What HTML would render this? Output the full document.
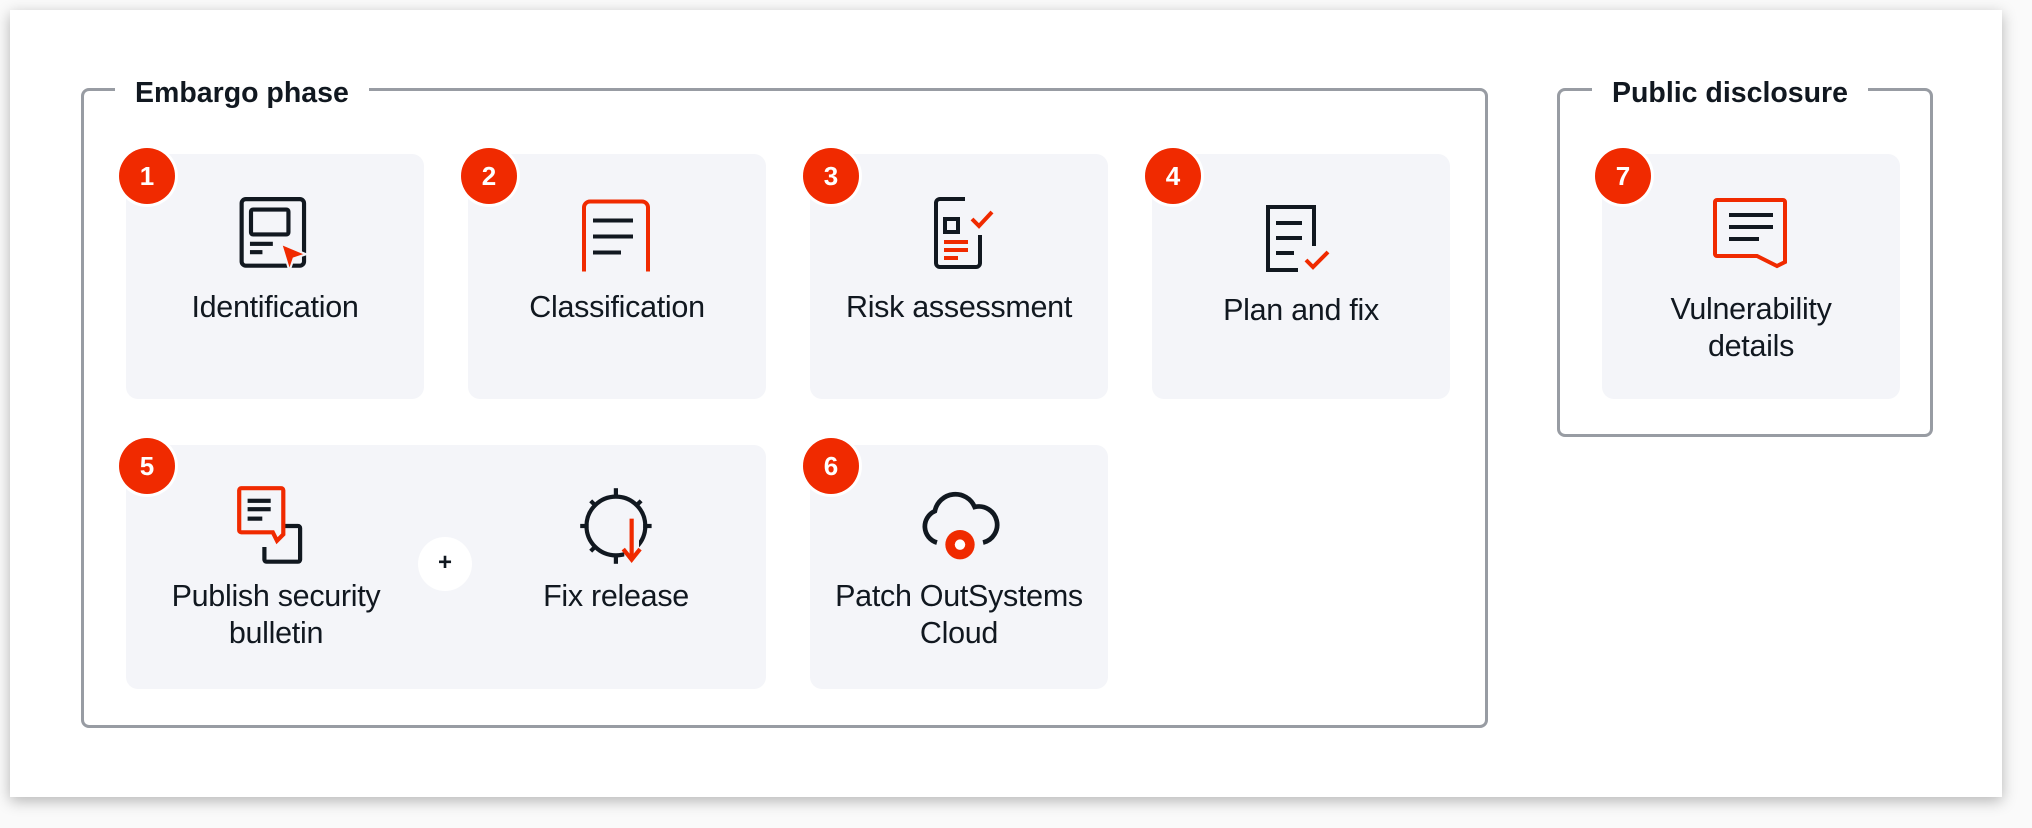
<!DOCTYPE html>
<html><head><meta charset="utf-8"><style>
html,body{margin:0;padding:0;}
body{width:2032px;height:828px;background:#fafafa;position:relative;overflow:hidden;font-family:"Liberation Sans",sans-serif;color:#111820;}
.sheet{position:absolute;left:10px;top:10px;width:1992px;height:787px;background:#fff;box-shadow:0 4px 14px rgba(0,0,0,0.28);}
.frame{position:absolute;border:3px solid #989ca3;border-radius:8px;box-sizing:border-box;}
.ftitle{position:absolute;background:#fff;font-weight:bold;font-size:28.5px;padding:0 20px;line-height:32px;letter-spacing:0px;}
.card{position:absolute;background:#f4f5f9;border-radius:12px;}
.badge{position:absolute;width:56px;height:56px;border-radius:50%;background:#f02a00;color:#fff;font-weight:bold;font-size:26px;text-align:center;line-height:56px;box-shadow:0 0 0 3px #fff;}
.lbl{position:absolute;font-size:30.5px;text-align:center;line-height:37px;letter-spacing:-0.3px;}
svg{position:absolute;}
</style></head><body>
<div class="sheet"></div>

<div class="frame" style="left:81px;top:88px;width:1407px;height:640px;"></div>
<div class="ftitle" style="left:115px;top:77px;">Embargo phase</div>

<div class="frame" style="left:1557px;top:88px;width:376px;height:349px;"></div>
<div class="ftitle" style="left:1592px;top:77px;">Public disclosure</div>

<div class="card" style="left:126px;top:154px;width:298px;height:245px;"></div>
<div class="card" style="left:468px;top:154px;width:298px;height:245px;"></div>
<div class="card" style="left:810px;top:154px;width:298px;height:245px;"></div>
<div class="card" style="left:1152px;top:154px;width:298px;height:245px;"></div>
<div class="card" style="left:126px;top:445px;width:640px;height:244px;"></div>
<div class="card" style="left:810px;top:445px;width:298px;height:244px;"></div>
<div class="card" style="left:1602px;top:154px;width:298px;height:245px;"></div>

<div class="badge" style="left:119px;top:148px;">1</div>
<div class="badge" style="left:461px;top:148px;">2</div>
<div class="badge" style="left:803px;top:148px;">3</div>
<div class="badge" style="left:1145px;top:148px;">4</div>
<div class="badge" style="left:119px;top:438px;">5</div>
<div class="badge" style="left:803px;top:438px;">6</div>
<div class="badge" style="left:1595px;top:148px;">7</div>

<svg style="left:235px;top:196px" width="84" height="78" viewBox="0 0 80 75">
<rect x="6" y="3" width="60" height="64" rx="4" fill="none" stroke="#111820" stroke-width="4"/>
<rect x="15" y="13" width="36" height="24" rx="2" fill="none" stroke="#111820" stroke-width="4"/>
<rect x="14" y="44" width="22" height="4" fill="#111820"/>
<rect x="14" y="52" width="12" height="4" fill="#111820"/>
<path d="M44 46 L68 56 L56 60 L52 72 Z" fill="#f02a00" stroke="#f4f5f9" stroke-width="2"/>
</svg>
<svg style="left:580px;top:197px" width="75" height="76" viewBox="0 0 75 75">
<path d="M4 74 V10 a6 6 0 0 1 6 -6 H62 a6 6 0 0 1 6 6 V74" fill="none" stroke="#f02a00" stroke-width="4"/>
<rect x="13" y="21" width="40" height="4" fill="#111820"/>
<rect x="13" y="37" width="40" height="4" fill="#111820"/>
<rect x="13" y="53" width="28" height="4" fill="#111820"/>
</svg>
<svg style="left:928px;top:195px" width="80" height="80" viewBox="0 0 80 80">
<path d="M37 4 H12 a4 4 0 0 0 -4 4 V68 a4 4 0 0 0 4 4 H48 a4 4 0 0 0 4 -4 V40" fill="none" stroke="#111820" stroke-width="4"/>
<rect x="17" y="24" width="13" height="13" fill="none" stroke="#111820" stroke-width="4"/>
<rect x="16" y="45" width="24" height="4" fill="#f02a00"/>
<rect x="16" y="53" width="24" height="4" fill="#f02a00"/>
<rect x="16" y="61" width="14" height="4" fill="#f02a00"/>
<path d="M44 24 L51 31 L64 17" fill="none" stroke="#f02a00" stroke-width="4"/>
</svg>
<svg style="left:1262px;top:202px" width="80" height="75" viewBox="0 0 80 75">
<path d="M52 44 V5 H6 V68 H36" fill="none" stroke="#111820" stroke-width="4"/>
<rect x="14" y="19" width="26" height="4" fill="#111820"/>
<rect x="14" y="34" width="26" height="4" fill="#111820"/>
<rect x="14" y="49" width="18" height="4" fill="#111820"/>
<path d="M44 58 L51 65 L66 50" fill="none" stroke="#f02a00" stroke-width="4"/>
</svg>
<svg style="left:235px;top:484px" width="84" height="84" viewBox="0 0 80 80">
<path d="M46 40 H60 a2 2 0 0 1 2 2 V72 a2 2 0 0 1 -2 2 H30 a2 2 0 0 1 -2 -2 V60" fill="none" stroke="#111820" stroke-width="4"/>
<path d="M6 4 H44 a2 2 0 0 1 2 2 V48 L40 54 L36 46 H6 a2 2 0 0 1 -2 -2 V6 a2 2 0 0 1 2 -2 Z" fill="#f4f5f9" stroke="#f02a00" stroke-width="4"/>
<rect x="12" y="14" width="22" height="4" fill="#111820"/>
<rect x="12" y="22" width="22" height="4" fill="#111820"/>
<rect x="12" y="31" width="14" height="4" fill="#111820"/>
</svg>
<svg style="left:576px;top:484px" width="84" height="84" viewBox="0 0 80 80">
<circle cx="38" cy="40" r="28" fill="none" stroke="#111820" stroke-width="4"/>
<g stroke="#111820" stroke-width="4"><line x1="38" y1="4" x2="38" y2="12"/><line x1="4" y1="40" x2="12" y2="40"/><line x1="64" y1="40" x2="72" y2="40"/><line x1="14" y1="16" x2="19" y2="21"/><line x1="62" y1="16" x2="57" y2="21"/><line x1="14" y1="64" x2="19" y2="59"/><line x1="38" y1="68" x2="38" y2="76"/></g>
<rect x="46" y="30" width="14" height="48" fill="#f4f5f9"/>
<line x1="53" y1="33" x2="53" y2="70" stroke="#f02a00" stroke-width="4"/>
<path d="M45 62 L53 72 L61 62" fill="none" stroke="#f02a00" stroke-width="4"/>
</svg>
<svg style="left:916px;top:490px" width="88" height="80" viewBox="0 0 84 76">
<path d="M20 50 A16 16 0 0 1 18 20 A20 20 0 0 1 56 16 A16 16 0 0 1 64 50" fill="none" stroke="#111820" stroke-width="4.5"/>
<circle cx="42" cy="52" r="14" fill="#f02a00"/>
<circle cx="42" cy="52" r="5" fill="#fff"/>
</svg>
<svg style="left:1711px;top:196px" width="80" height="75" viewBox="0 0 80 75">
<path d="M6 4 H72 a2 2 0 0 1 2 2 V66 L66 70 L46 60 H6 a2 2 0 0 1 -2 -2 V6 a2 2 0 0 1 2 -2 Z" fill="none" stroke="#f02a00" stroke-width="4"/>
<rect x="18" y="17" width="44" height="4" fill="#111820"/>
<rect x="18" y="29" width="44" height="4" fill="#111820"/>
<rect x="18" y="41" width="30" height="4" fill="#111820"/>
</svg>

<div style="position:absolute;left:418px;top:537px;width:54px;height:54px;border-radius:50%;background:#fff;text-align:center;line-height:52px;font-weight:bold;font-size:24px;">+</div>

<div class="lbl" style="left:126px;top:289px;width:298px;">Identification</div>
<div class="lbl" style="left:468px;top:289px;width:298px;">Classification</div>
<div class="lbl" style="left:810px;top:289px;width:298px;">Risk assessment</div>
<div class="lbl" style="left:1152px;top:292px;width:298px;">Plan and fix</div>
<div class="lbl" style="left:126px;top:578px;width:300px;">Publish security<br>bulletin</div>
<div class="lbl" style="left:466px;top:578px;width:300px;">Fix release</div>
<div class="lbl" style="left:800px;top:578px;width:318px;">Patch OutSystems<br>Cloud</div>
<div class="lbl" style="left:1602px;top:291px;width:298px;">Vulnerability<br>details</div>
</body></html>
